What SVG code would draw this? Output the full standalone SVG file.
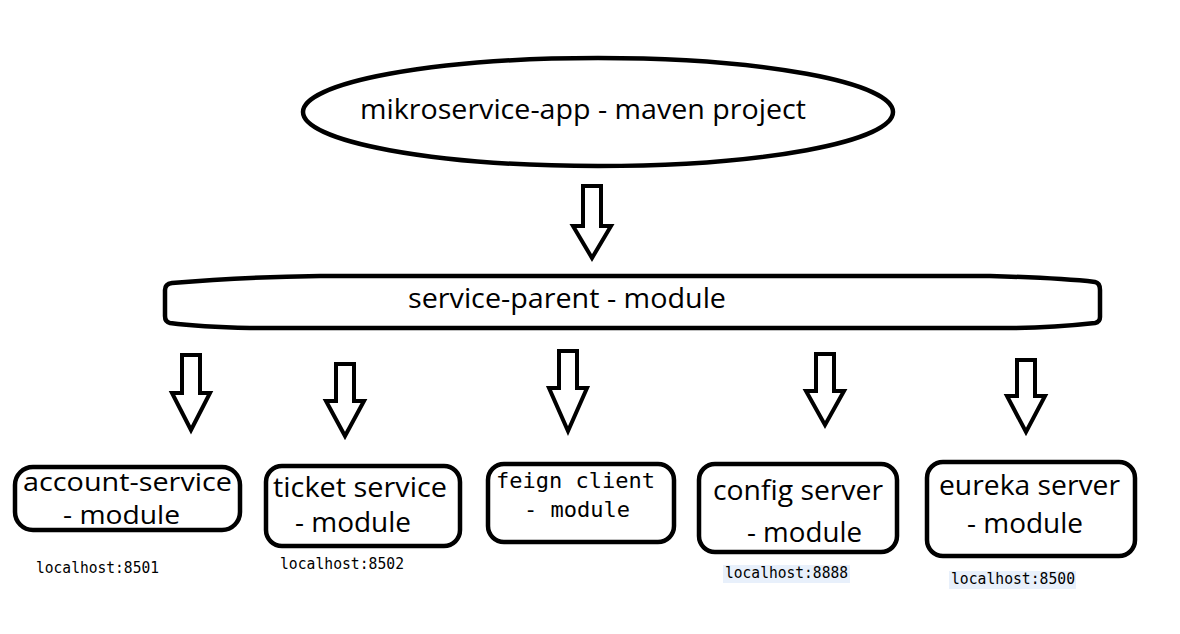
<svg xmlns="http://www.w3.org/2000/svg" width="1180" height="634" viewBox="0 0 1180 634">
<style>
.shape{fill:#fff;stroke:#000;stroke-width:4.5;stroke-linejoin:round}
.arrow{fill:#fff;stroke:#000;stroke-width:4;stroke-linejoin:miter}
.t{font-family:"Open Sans","Noto Sans","DejaVu Sans",sans-serif;font-size:27px;fill:#000}
.s{font-size:25px}
.m{font-family:"DejaVu Sans Mono","Liberation Mono",monospace;fill:#000}
.lh{font-size:15px}
.fm{font-size:22px}
.hl{fill:#e8f0fb}
</style>
<rect width="1180" height="634" fill="#fff"/>
<g id="connectors">
<path class="arrow" d="M583 186 H601 V226 H611 L592 258 L573 226 H583 Z"/>
<path class="arrow" d="M182 355 H200 V393 H210 L191 430 L172 393 H182 Z"/>
<path class="arrow" d="M336 364 H354 V401 H364 L345 436 L326 401 H336 Z"/>
<path class="arrow" d="M559 351 H577 V388 H587 L568 431 L549 388 H559 Z"/>
<path class="arrow" d="M816 354 H834 V391 H844 L825 425 L806 391 H816 Z"/>
<path class="arrow" d="M1017 360 H1035 V396 H1045 L1026 432 L1007 396 H1017 Z"/>
</g>
<g id="maven-project">
<ellipse class="shape" cx="598" cy="112" rx="295" ry="54"/>
<text class="t" x="360" y="119" textLength="446" lengthAdjust="spacingAndGlyphs">mikroservice-app - maven project</text>
</g>
<g id="service-parent">
<path class="shape" d="M172 283 Q240 277 320 276 H990 Q1060 278 1095 282 Q1100 283 1100 290 V317 Q1100 322 1095 323 Q1050 328 1010 328 H250 Q200 327 170 323 Q165 322 165 316 V290 Q165 284 172 283 Z"/>
<text class="t" x="408" y="308" textLength="318" lengthAdjust="spacingAndGlyphs">service-parent - module</text>
</g>
<g id="account-service">
<rect class="shape" x="15" y="467" width="225" height="63" rx="18"/>
<text class="t s" x="23" y="491" textLength="209" lengthAdjust="spacingAndGlyphs">account-service</text>
<text class="t s" x="63" y="524" textLength="117" lengthAdjust="spacingAndGlyphs">- module</text>
<text class="m lh" x="36" y="573" textLength="123" lengthAdjust="spacingAndGlyphs">localhost:8501</text>
</g>
<g id="ticket-service">
<rect class="shape" x="266" y="466" width="194" height="80" rx="16"/>
<text class="t" x="273" y="497" textLength="174" lengthAdjust="spacingAndGlyphs">ticket service</text>
<text class="t" x="295" y="532" textLength="116" lengthAdjust="spacingAndGlyphs">- module</text>
<text class="m lh" x="280" y="569" textLength="124" lengthAdjust="spacingAndGlyphs">localhost:8502</text>
</g>
<g id="feign-client">
<rect class="shape" x="488" y="464" width="186" height="78" rx="16"/>
<text class="m fm" x="496" y="488">feign client</text>
<text class="m fm" x="524" y="517">- module</text>
</g>
<g id="config-server">
<rect class="shape" x="699" y="464" width="198" height="88" rx="16"/>
<text class="t" x="713" y="500" textLength="170" lengthAdjust="spacingAndGlyphs">config server</text>
<text class="t" x="747" y="542" textLength="115" lengthAdjust="spacingAndGlyphs">- module</text>
<rect class="hl" x="723" y="565" width="127" height="18"/>
<text class="m lh" x="725" y="578" textLength="123" lengthAdjust="spacingAndGlyphs">localhost:8888</text>
</g>
<g id="eureka-server">
<rect class="shape" x="927" y="462" width="208" height="94" rx="16"/>
<text class="t" x="939" y="495" textLength="181" lengthAdjust="spacingAndGlyphs">eureka server</text>
<text class="t" x="967" y="533" textLength="116" lengthAdjust="spacingAndGlyphs">- module</text>
<rect class="hl" x="949" y="571" width="127" height="18"/>
<text class="m lh" x="951" y="584" textLength="124" lengthAdjust="spacingAndGlyphs">localhost:8500</text>
</g>
</svg>
